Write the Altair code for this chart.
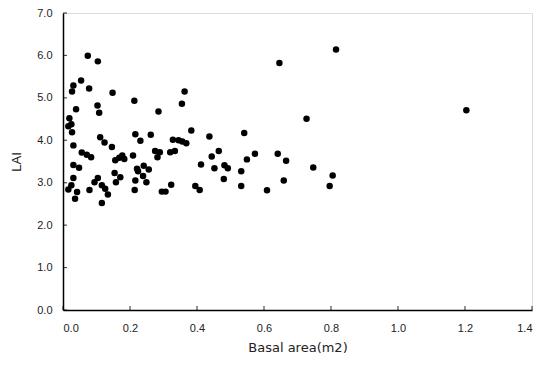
import altair as alt
import pandas as pd

basal_area = [
    0.074, 0.104, 0.054, 0.031, 0.027, 0.078, 0.148, 0.213, 0.039, 0.103,
    0.108, 0.285, 0.355, 0.363, 0.019, 0.025, 0.016, 0.027,
    0.031, 0.111, 0.124, 0.146, 0.216, 0.231, 0.056, 0.071, 0.084, 0.177,
    0.168, 0.156, 0.183, 0.209, 0.031, 0.048, 0.221, 0.224, 0.241, 0.256,
    0.154, 0.171, 0.158, 0.216, 0.104, 0.094, 0.031, 0.025, 0.016, 0.042,
    0.036, 0.079, 0.116, 0.126, 0.134, 0.116, 0.214, 0.239, 0.249,
    0.262, 0.383, 0.437, 0.328, 0.345, 0.356, 0.368, 0.275, 0.289, 0.282,
    0.320, 0.334, 0.465, 0.444, 0.412, 0.452, 0.482, 0.492, 0.480, 0.323,
    0.395, 0.408, 0.295, 0.306,
    0.727, 0.541, 0.549, 0.573, 0.641, 0.666, 0.532, 0.747, 0.805, 0.659,
    0.532, 0.609, 0.796, 0.815, 0.646, 1.204,
]
lai = [
    5.99, 5.86, 5.41, 5.29, 5.15, 5.22, 5.12, 4.93, 4.73, 4.82,
    4.65, 4.68, 4.86, 5.15, 4.52, 4.38, 4.33, 4.19,
    3.88, 4.07, 3.95, 3.84, 4.14, 3.99, 3.71, 3.66, 3.60, 3.64,
    3.59, 3.53, 3.56, 3.64, 3.42, 3.35, 3.33, 3.27, 3.40, 3.31,
    3.23, 3.13, 3.01, 3.05, 3.11, 3.01, 3.11, 2.94, 2.84, 2.78,
    2.62, 2.83, 2.94, 2.86, 2.72, 2.52, 2.83, 3.16, 3.01,
    4.13, 4.23, 4.09, 4.01, 4.00, 3.97, 3.93, 3.75, 3.72, 3.60,
    3.72, 3.75, 3.75, 3.62, 3.43, 3.34, 3.41, 3.34, 3.09, 2.95,
    2.92, 2.83, 2.79, 2.79,
    4.51, 4.17, 3.55, 3.68, 3.68, 3.52, 3.27, 3.36, 3.17, 3.05,
    2.92, 2.82, 2.92, 6.14, 5.82, 4.71,
]
x_ticks = [0.0, 0.2, 0.4, 0.6, 0.8, 1.0, 1.2, 1.4]
y_ticks = [0.0, 1.0, 2.0, 3.0, 4.0, 5.0, 6.0, 7.0]

df = pd.DataFrame({"ba": basal_area, "lai": lai})
xt = pd.DataFrame({"x": x_ticks, "y": [0.0] * len(x_ticks)})
yt = pd.DataFrame({"y": y_ticks, "x": [0.0] * len(y_ticks)})

FONT = "Liberation Sans"

xscale = alt.Scale(domain=[0, 1.4], nice=False, zero=True)
yscale = alt.Scale(domain=[0, 7], nice=False, zero=True)

points = alt.Chart(df).mark_circle(size=42, color="black", opacity=1).encode(
    x=alt.X("ba:Q", scale=xscale, title="Basal area(m2)",
            axis=alt.Axis(values=x_ticks, format=".1f", tickSize=0,
                          labelPadding=12, titlePadding=8,
                          domainColor="black", domainWidth=1.5,
                          labelColor="#222", titleColor="#222",
                          labelFont=FONT, titleFont="DejaVu Sans",
                          labelFontSize=11, titleFontSize=13,
                          titleFontWeight="normal", grid=False)),
    y=alt.Y("lai:Q", scale=yscale, title="LAI",
            axis=alt.Axis(values=y_ticks, format=".1f", tickSize=0,
                          labelPadding=11, titlePadding=13,
                          domainColor="black", domainWidth=1.5,
                          labelColor="#222", titleColor="#222",
                          labelFont=FONT, titleFont=FONT,
                          labelFontSize=11, titleFontSize=13,
                          titleFontWeight="normal", grid=False)),
)

xtick_marks = alt.Chart(xt).mark_tick(orient="vertical", size=4, thickness=1.2,
                                       color="black", yOffset=-2).encode(
    x=alt.X("x:Q", scale=xscale), y=alt.Y("y:Q", scale=yscale))
ytick_marks = alt.Chart(yt).mark_tick(orient="horizontal", size=4, thickness=1.2,
                                       color="black", xOffset=2).encode(
    x=alt.X("x:Q", scale=xscale), y=alt.Y("y:Q", scale=yscale))

chart = alt.layer(points, xtick_marks, ytick_marks).properties(
    width=469, height=297,
    autosize=alt.AutoSizeParams(type="none"),
    padding={"left": 55, "top": 5, "right": 1, "bottom": 48},
).configure_view(stroke=None).configure(background="white")

chart.save("out.html", embed_options={"renderer": "svg", "actions": False})
